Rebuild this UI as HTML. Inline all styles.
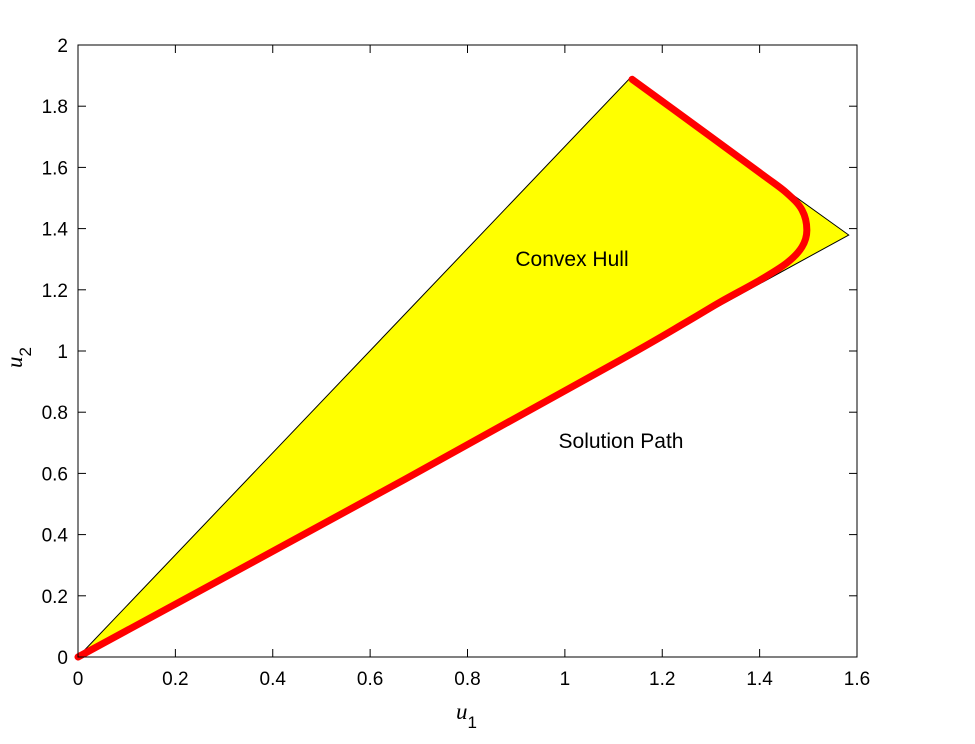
<!DOCTYPE html>
<html><head><meta charset="utf-8"><style>
body{margin:0;background:#fff}
svg{display:block;font-family:"Liberation Sans",Arial,sans-serif}
</style></head><body>
<svg id="chart" width="975" height="744" viewBox="0 0 975 744" style="position:absolute;left:0;top:0">
<g id="plot"></g>
<text x="456" y="719" font-family="Liberation Serif,serif" font-style="italic" font-size="23">u<tspan font-style="normal" font-family="Liberation Sans,sans-serif" font-size="17" dy="9">1</tspan></text>
<g transform="translate(22,368) rotate(-90)"><text x="0" y="0" font-family="Liberation Serif,serif" font-style="italic" font-size="23">u<tspan font-style="normal" font-family="Liberation Sans,sans-serif" font-size="17" dy="9">2</tspan></text></g>
</svg>
<script>
const hullU1=[0,1.134,1.583];
const hullU2=[0,1.892,1.379];
const pathU1=[0,0.62,1.1,1.25,1.319,1.401,1.456,1.487,1.497,1.487,1.456,1.407,1.3,1.138];
const pathU2=[0,0.536,0.958,1.095,1.160,1.232,1.288,1.340,1.395,1.461,1.516,1.575,1.700,1.888];
const xTicks=[0,0.2,0.4,0.6,0.8,1,1.2,1.4,1.6];
const yTicks=[0,0.2,0.4,0.6,0.8,1,1.2,1.4,1.6,1.8,2];
const L=78,R=857,T=45,B=657;
const X=v=>L+(v-0)/(1.6)*(R-L);
const Y=v=>B-(v-0)/2*(B-T);
const ns='http://www.w3.org/2000/svg';
const g=document.getElementById('plot');
function mk(t,a,p){const e=document.createElementNS(ns,t);for(const k in a)e.setAttribute(k,a[k]);(p||g).appendChild(e);return e;}
const hull=mk('polygon',{points:hullU1.map((u,i)=>X(u)+','+Y(hullU2[i])).join(' '),fill:'#ffff00',stroke:'#000','stroke-width':1});


const P=pathU1.map((u,i)=>[X(u),Y(pathU2[i])]);
let d='M'+P[0][0]+','+P[0][1];
for(let i=0;i<P.length-1;i++){
 const p0=P[i-1]||P[i],p1=P[i],p2=P[i+1],p3=P[i+2]||P[i+1];
 const c1=[p1[0]+(p2[0]-p0[0])/6,p1[1]+(p2[1]-p0[1])/6];
 const c2=[p2[0]-(p3[0]-p1[0])/6,p2[1]-(p3[1]-p1[1])/6];
 d+=' C'+c1[0]+','+c1[1]+' '+c2[0]+','+c2[1]+' '+p2[0]+','+p2[1];
}
const sp=mk('path',{d:d,fill:'none',stroke:'#ff0000','stroke-width':7,'stroke-linejoin':'round','stroke-linecap':'round'});


const box=mk('rect',{x:L,y:T,width:R-L,height:B-T,fill:'none',stroke:'#000','stroke-width':1});


xTicks.forEach(v=>{
 const x=X(v);
 mk('line',{x1:x,x2:x,y1:B,y2:B-8,stroke:'#000'});
 mk('line',{x1:x,x2:x,y1:T,y2:T+8,stroke:'#000'});
 const t=mk('text',{x:x,y:B+28,'text-anchor':'middle','font-size':19});
 t.textContent=String(v);
 
 
});
yTicks.forEach(v=>{
 const y=Y(v);
 mk('line',{x1:L,x2:L+8,y1:y,y2:y,stroke:'#000'});
 mk('line',{x1:R,x2:R-8,y1:y,y2:y,stroke:'#000'});
 const t=mk('text',{x:L-10,y:y+7,'text-anchor':'end','font-size':19});
 t.textContent=String(v);
 
 
});
const c=mk('text',{x:572,y:266,'text-anchor':'middle','font-size':21});
c.textContent='Convex Hull';


const s=mk('text',{x:621,y:448,'text-anchor':'middle','font-size':21});
s.textContent='Solution Path';


</script>
</body></html>
